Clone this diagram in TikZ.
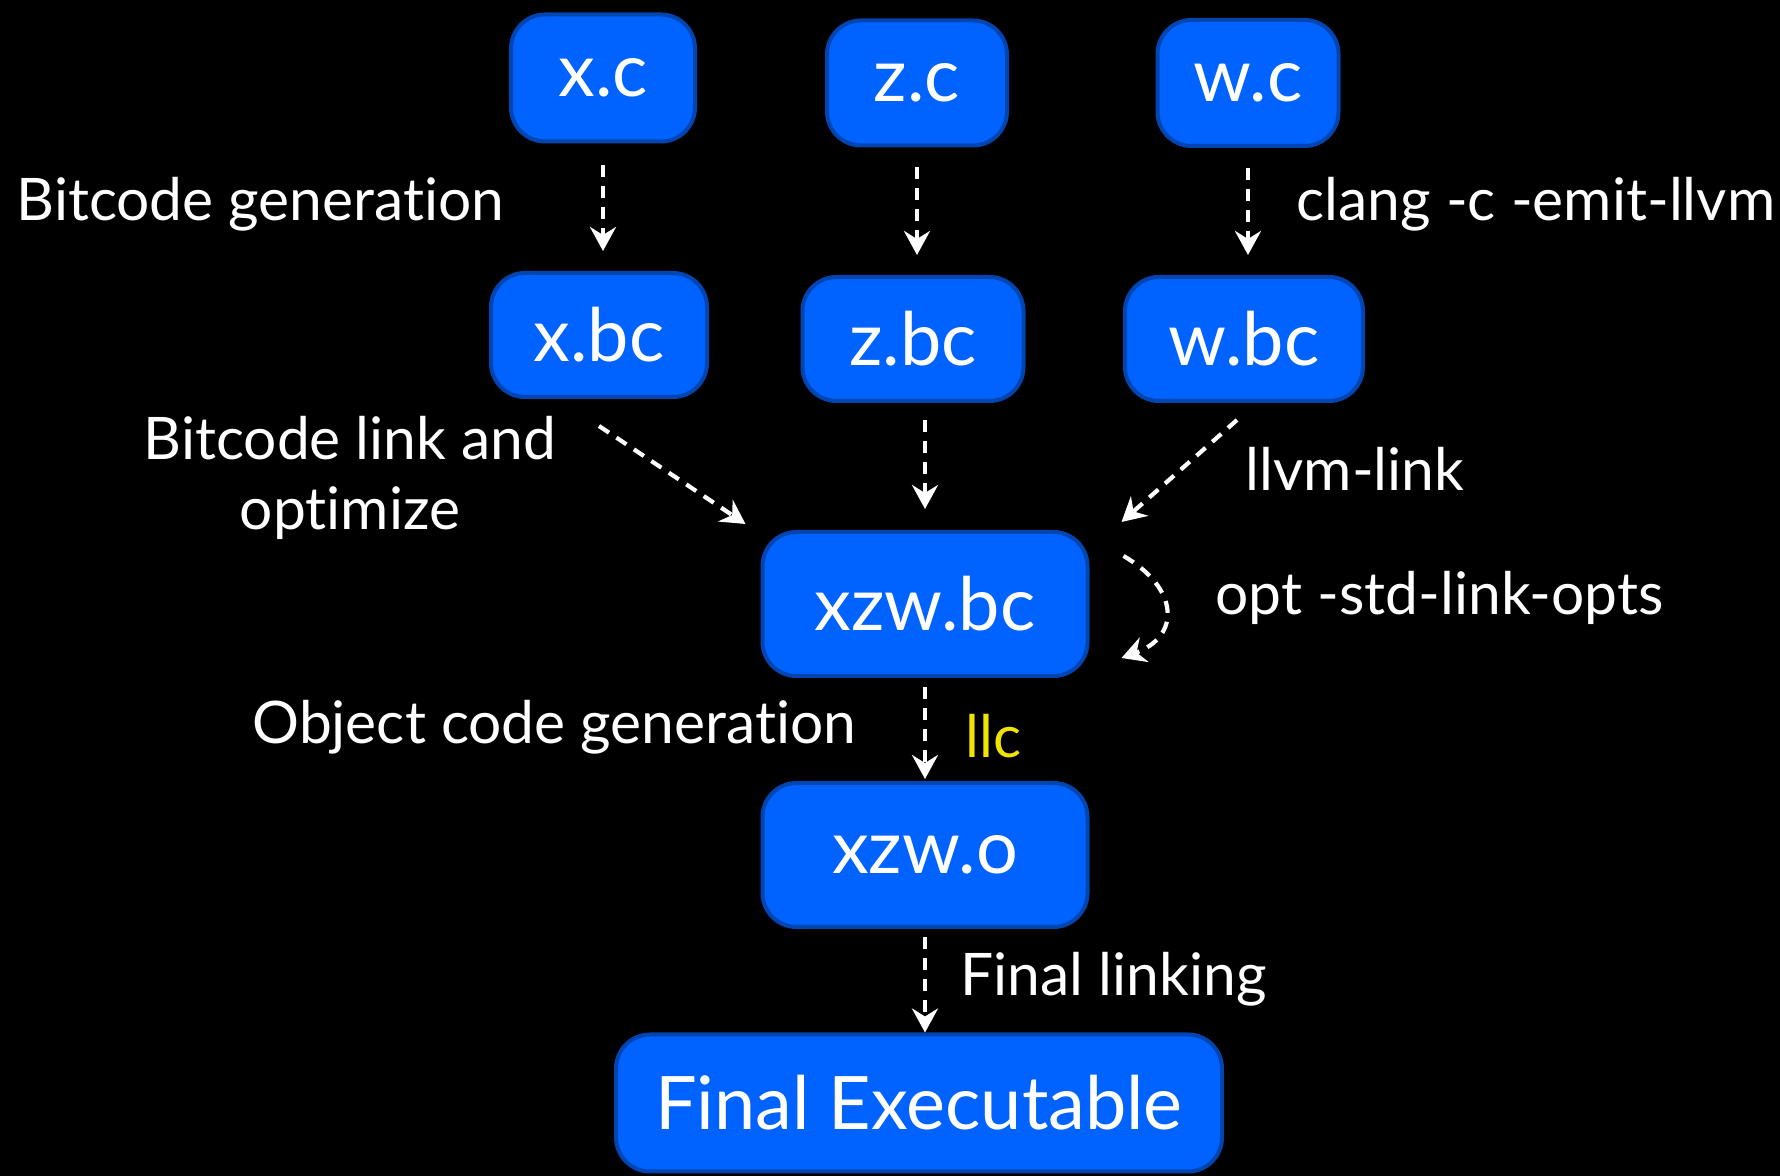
\documentclass[tikz,border=0pt]{standalone}
\usepackage{fontspec}
\setmainfont{Lato}[Ligatures={NoCommon,NoRare}]
\usetikzlibrary{arrows.meta}

\definecolor{boxblue}{RGB}{0,98,255}
\definecolor{boxedge}{RGB}{0,69,176}
\definecolor{llcyellow}{RGB}{238,228,0}

\begin{document}
\begin{tikzpicture}[>={Stealth[length=0.24cm,width=0.26cm,inset=0.08cm]},
  file/.style={draw=boxedge,line width=0.04cm,fill=boxblue,rounded corners=0.34cm,
    text=white,font=\fontsize{21}{25}\selectfont,inner sep=0},
  lbl/.style={text=white,font=\fontsize{16.7}{20}\selectfont,inner sep=0},
  flow/.style={->,white,line width=0.042cm,dash pattern=on 0.12cm off 0.09cm}]
\fill[black] (0,0) rectangle (17.8,-11.76);
\useasboundingbox (0,0) rectangle (17.8,-11.76);
% source files, bitcode, linked module
\node[file,minimum width=1.84cm,minimum height=1.27cm] (xc) at (6.03,-0.78) {x.c};
\node[file,minimum width=1.80cm,minimum height=1.25cm] (zc) at (9.17,-0.83) {z.c};
\node[file,minimum width=1.81cm,minimum height=1.26cm] (wc) at (12.48,-0.83) {w.c};
\node[file,minimum width=2.16cm,minimum height=1.24cm] (xbc) at (5.99,-3.35) {x.bc};
\node[file,minimum width=2.21cm,minimum height=1.24cm] (zbc) at (9.13,-3.39) {z.bc};
\node[file,minimum width=2.38cm,minimum height=1.24cm] (wbc) at (12.44,-3.39) {w.bc};
\node[file,minimum width=3.25cm,minimum height=1.44cm] (xzwbc) at (9.25,-6.04) {xzw.bc};
\node[file,minimum width=3.25cm,minimum height=1.44cm] (xzwo) at (9.25,-8.55) {xzw.o};
\node[file,minimum width=6.06cm,minimum height=1.37cm] (final) at (9.19,-11.03) {Final Executable};
% step labels
\node[lbl,anchor=east] (lgen) at (5.05,-2.04) {Bitcode generation};
\node[lbl,anchor=west] (lclang) at (12.96,-2.04) {clang -c -emit-llvm};
\node[lbl,align=center] (llink) at (3.50,-4.78) {Bitcode link and\\optimize};
\node[lbl,anchor=west] (lllvm) at (12.45,-4.69) {llvm-link};
\node[lbl,anchor=west] (lopt) at (12.15,-5.98) {opt -std-link-opts};
\node[lbl,anchor=east] (lobj) at (8.57,-7.27) {Object code generation};
\node[lbl,anchor=west,text=llcyellow] (lllc) at (9.65,-7.36) {llc};
\node[lbl,anchor=west] (lfin) at (9.60,-9.79) {Final linking};
% arrows
\draw[flow,shorten <=0.22cm,shorten >=0.2cm] (xc) -- (xc|-xbc.north);
\draw[flow,shorten <=0.2cm,shorten >=0.2cm] (zc.south-|zc) -- (zc|-zbc.north);
\draw[flow,shorten <=0.2cm,shorten >=0.2cm] (wc) -- (wc|-wbc.north);
\draw[flow] ([yshift=-0.27cm]xbc.south) -- ([xshift=-0.15cm,yshift=0.06cm]xzwbc.north west);
\draw[flow,shorten <=0.17cm,shorten >=0.21cm] (xzwbc.north|-zbc.south) -- (xzwbc.north);
\draw[flow] ([xshift=-0.07cm,yshift=-0.17cm]wbc.south) -- ([xshift=0.32cm,yshift=0.08cm]xzwbc.north east);
\draw[flow] ([xshift=0.34cm,yshift=-0.26cm]xzwbc.north east) to[out=-30,in=20,looseness=1.6] ([xshift=0.32cm,yshift=0.2cm]xzwbc.south east);
\draw[flow,shorten <=0.09cm,shorten >=0.02cm] (xzwbc) -- (xzwo);
\draw[flow,shorten <=0.08cm] (xzwo.south-|xzwbc) -- (final.north-|xzwbc);
\end{tikzpicture}
\end{document}
